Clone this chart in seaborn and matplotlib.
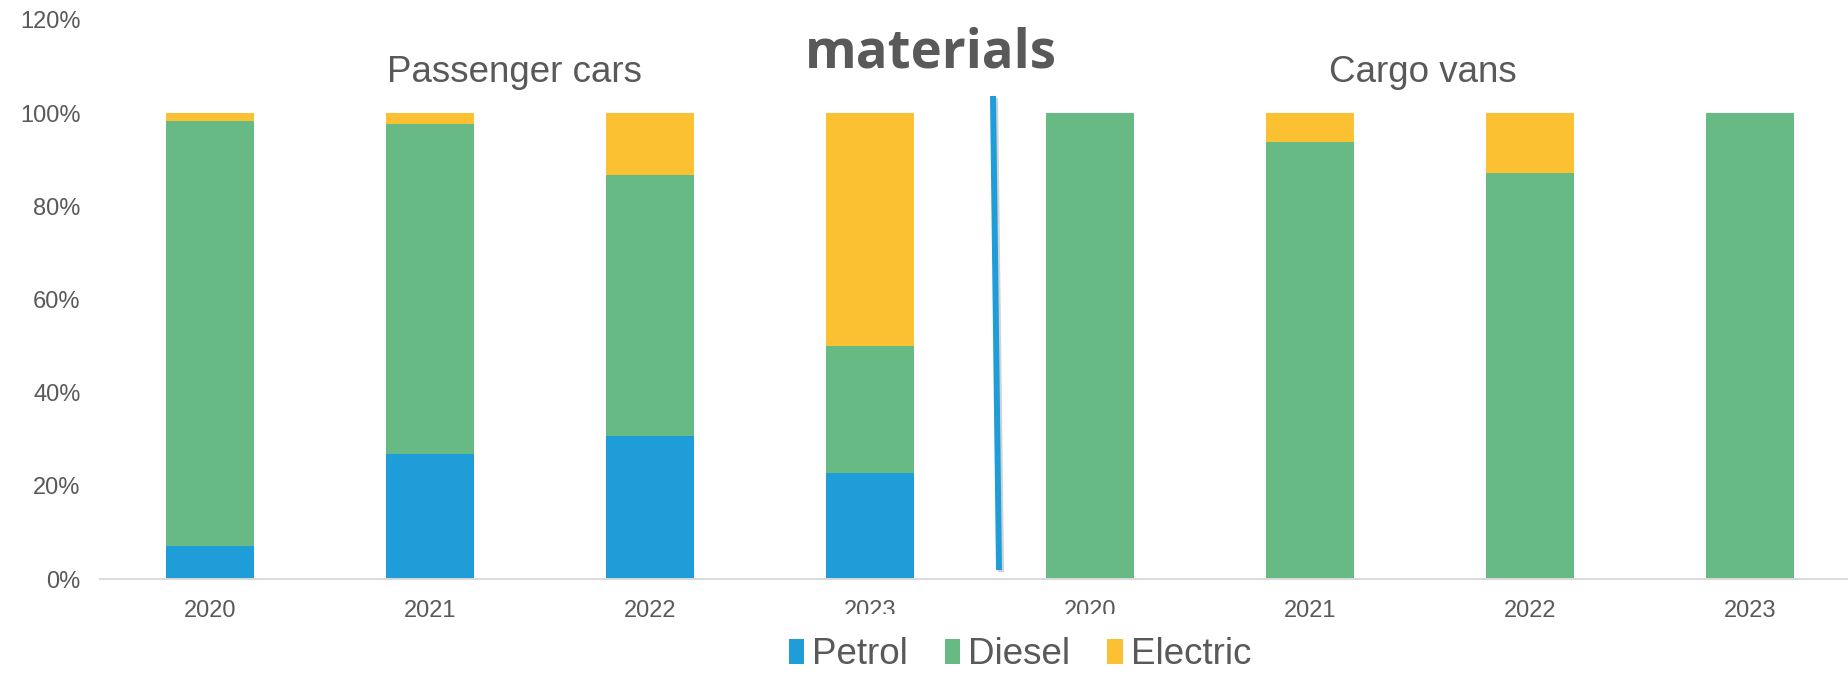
import matplotlib
matplotlib.use("Agg")
import matplotlib.pyplot as plt
import matplotlib.patheffects as pe
from matplotlib.patches import Patch, Rectangle
from matplotlib.lines import Line2D
from matplotlib.ticker import PercentFormatter
import seaborn as sns
import pandas as pd
import numpy as np

# ---- data (percent shares) ----
groups = ["Passenger cars"] * 4 + ["Cargo vans"] * 4
years = ["2020", "2021", "2022", "2023", "2020", "2021", "2022", "2023"]
petrol = [7.0, 26.8, 30.6, 22.8, 0.0, 0.0, 0.0, 0.0]
diesel = [91.3, 70.9, 56.2, 27.1, 100.0, 93.7, 87.1, 100.0]
electric = [1.7, 2.3, 13.2, 50.1, 0.0, 6.3, 12.9, 0.0]
series_names = ["Petrol", "Diesel", "Electric"]
series_colors = ["#1e9dd9", "#67ba84", "#fcc133"]
yticks = [0, 20, 40, 60, 80, 100, 120]

slots = [f"{g} {y}" for g, y in zip(groups, years)]
df = pd.DataFrame({"slot": slots, "Petrol": petrol, "Diesel": diesel, "Electric": electric})
df["top_petrol"] = df["Petrol"]
df["top_diesel"] = df["Petrol"] + df["Diesel"]
df["top_electric"] = df["Petrol"] + df["Diesel"] + df["Electric"]

sns.set_theme(style="white")
plt.rcParams["font.family"] = ["Liberation Sans", "DejaVu Sans"]

W, H = 1849, 675
fig = plt.figure(figsize=(W / 100, H / 100), dpi=100)
ax = fig.add_axes([100 / W, (H - 579) / H, 1760 / W, 559.2 / H])

for col, color in zip(["top_electric", "top_diesel", "top_petrol"], series_colors[::-1]):
    sns.barplot(data=df, x="slot", y=col, order=slots, color=color, saturation=1,
                width=0.4, ax=ax, linewidth=0, edgecolor="none")

ax.set_xlim(-0.5, 7.5)
ax.set_ylim(0, 120)
ax.set_yticks(yticks)
ax.yaxis.set_major_formatter(PercentFormatter(decimals=0))
ax.set_xticks(range(len(slots)))
ax.set_xticklabels(years)
ax.set_xlabel("")
ax.set_ylabel("")
ax.grid(False)
for s in ["top", "right", "left"]:
    ax.spines[s].set_visible(False)
ax.spines["bottom"].set_color("#d9d9d9")
ax.spines["bottom"].set_linewidth(1.4)
ax.tick_params(axis="y", length=0, pad=14, labelsize=17, labelcolor="#595959")
ax.tick_params(axis="x", length=0, pad=15, labelsize=17, labelcolor="#595959")

# group labels and title fragment
fig.text(515 / W, (H - 72) / H, "Passenger cars", ha="center", va="center",
         fontsize=26.5, color="#595959")
fig.text(1423 / W, (H - 72) / H, "Cargo vans", ha="center", va="center",
         fontsize=26.5, color="#595959")
fig.text(931 / W, (H - 53) / H, "materials", ha="center", va="center",
         fontsize=38, fontweight="bold", color="#595959",
         family=["Open Sans", "DejaVu Sans"])

# divider line with a soft shadow
div = Line2D([993 / W, 999 / W], [(H - 96) / H, (H - 570) / H], transform=fig.transFigure,
             color="#1e9dd9", linewidth=4.3, solid_capstyle="butt",
             path_effects=[pe.SimpleLineShadow(offset=(1.5, -1.5), shadow_color="gray", alpha=0.35),
                           pe.Normal()])
fig.add_artist(div)

# legend with white background covering tick labels beneath it
cover = Rectangle((775 / W, 0), 495 / W, (H - 614) / H, transform=fig.transFigure,
                  facecolor="white", edgecolor="none", zorder=4)
fig.add_artist(cover)
handles = [Patch(facecolor=c, edgecolor="none", label=n) for n, c in zip(series_names, series_colors)]
leg = fig.legend(handles=handles, loc="center", bbox_to_anchor=(1020 / W, (H - 655) / H),
                 ncol=3, frameon=False, fontsize=26.5, handlelength=0.42, handleheight=0.66,
                 handletextpad=0.22, columnspacing=1.0, borderpad=0)
for t in leg.get_texts():
    t.set_color("#595959")
leg.set_zorder(5)

fig.savefig("out.png", dpi=100)
